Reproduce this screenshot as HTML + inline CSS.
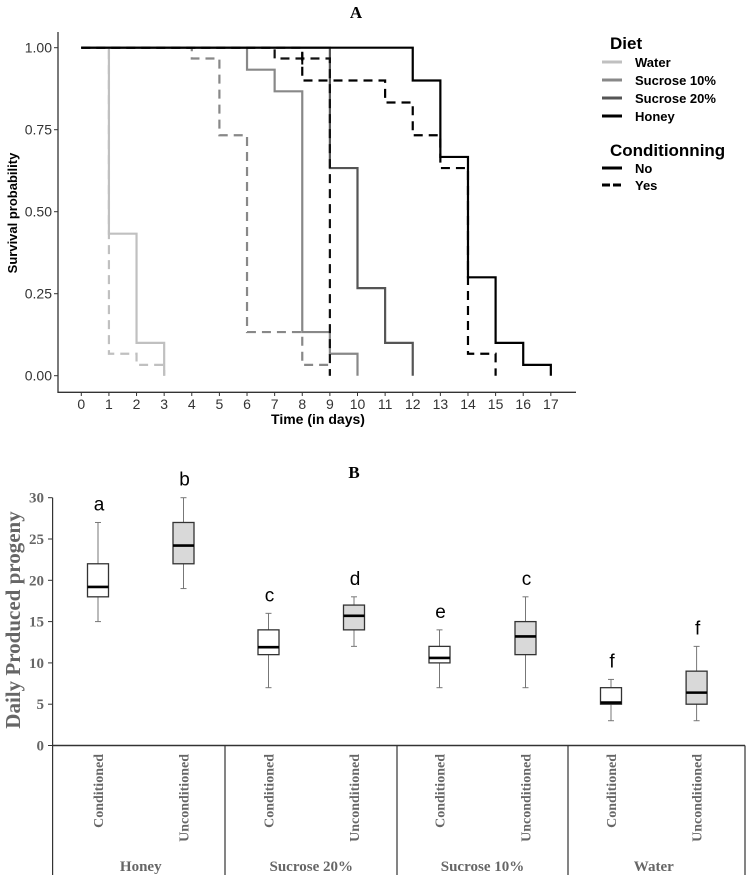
<!DOCTYPE html>
<html><head><meta charset="utf-8"><style>
html,body{margin:0;padding:0;background:#fff;}
svg{display:block;}
</style></head><body>
<svg id="fig" width="749" height="881" viewBox="0 0 749 881" xmlns="http://www.w3.org/2000/svg">
<text x="356" y="18" text-anchor="middle" font-family="Liberation Serif, serif" font-weight="bold" font-size="17">A</text>
<g id="pa"></g>
<g font-family="Liberation Sans, sans-serif" font-weight="bold">
<text x="610" y="49" font-size="17">Diet</text>
<line x1="602" y1="62" x2="622" y2="62" stroke="#c0c0c0" stroke-width="3"/>
<text x="635" y="67" font-size="13">Water</text>
<line x1="602" y1="80" x2="622" y2="80" stroke="#888" stroke-width="3"/>
<text x="635" y="85" font-size="13">Sucrose 10%</text>
<line x1="602" y1="98" x2="622" y2="98" stroke="#555" stroke-width="3"/>
<text x="635" y="103" font-size="13">Sucrose 20%</text>
<line x1="602" y1="116" x2="622" y2="116" stroke="#000" stroke-width="3"/>
<text x="635" y="121" font-size="13">Honey</text>
<text x="610" y="156" font-size="17">Conditionning</text>
<line x1="602" y1="168" x2="622" y2="168" stroke="#000" stroke-width="3"/>
<text x="635" y="173" font-size="13">No</text>
<line x1="602" y1="185" x2="622" y2="185" stroke="#000" stroke-width="3" stroke-dasharray="8,3"/>
<text x="635" y="190" font-size="13">Yes</text>
</g>
<text x="354" y="478" text-anchor="middle" font-family="Liberation Serif, serif" font-weight="bold" font-size="17">B</text>
<g id="pb"></g>
</svg>
<script>
// ---- Panel A data ----
const survTimesWaterNo = [0,1,2,3];
const survProbWaterNo = [1,0.433,0.1,0];
const survTimesWaterYes = [0,1,2,3];
const survProbWaterYes = [1,0.067,0.033,0];
const survTimesSuc10No = [0,6,7,8,9,10];
const survProbSuc10No = [1,0.933,0.867,0.133,0.067,0];
const survTimesSuc10Yes = [0,4,5,6,8,9];
const survProbSuc10Yes = [1,0.967,0.733,0.133,0.033,0];
const survTimesSuc20No = [0,9,10,11,12];
const survProbSuc20No = [1,0.633,0.267,0.1,0];
const survTimesSuc20Yes = [0,7,9];
const survProbSuc20Yes = [1,0.967,0];
const survTimesHoneyNo = [0,12,13,14,15,16,17];
const survProbHoneyNo = [1,0.9,0.667,0.3,0.1,0.033,0];
const survTimesHoneyYes = [0,8,11,12,13,14,15];
const survProbHoneyYes = [1,0.9,0.833,0.733,0.633,0.067,0];
const xTicksA = [0,1,2,3,4,5,6,7,8,9,10,11,12,13,14,15,16,17];
const yTicksA = [0,0.25,0.5,0.75,1];
const yTickLabelsA = ["0.00","0.25","0.50","0.75","1.00"];

// ---- Panel B data ----
const groupsB = ["Honey","Sucrose 20%","Sucrose 10%","Water"];
const condLabels = ["Conditioned","Unconditioned"];
const boxMin = [15,19,7,12,7,7,3,3];
const boxQ1 = [18,22,11,14,10,11,5,5];
const boxMed = [19.2,24.2,11.9,15.7,10.6,13.2,5.2,6.4];
const boxQ3 = [22,27,14,17,12,15,7,9];
const boxMax = [27,30,16,18,14,18,8,12];
const boxLetters = ["a","b","c","d","e","c","f","f"];
const yTicksB = [0,5,10,15,20,25,30];

const NS="http://www.w3.org/2000/svg";
function mk(parent,tag,attrs,text){const e=document.createElementNS(NS,tag);for(const k in attrs)e.setAttribute(k,attrs[k]);if(text!==undefined)e.textContent=text;parent.appendChild(e);return e;}

// Panel A
const pa=document.getElementById('pa');
const xA=d=>81.3+d*27.62;
const yA=p=>375.7-p*328;
let e;
e=mk(pa,'path',{d:'M58,32 V392.3 H576',fill:'none',stroke:'#333','stroke-width':1.3});


yTicksA.forEach((v,i)=>{
  mk(pa,'line',{x1:54,x2:58,y1:yA(v),y2:yA(v),stroke:'#333'});
  e=mk(pa,'text',{x:52,y:yA(v)+5,'text-anchor':'end','font-family':'Liberation Sans, sans-serif','font-size':14,fill:'#333'},yTickLabelsA[i]);
  
  
});
xTicksA.forEach(v=>{
  mk(pa,'line',{x1:xA(v),x2:xA(v),y1:392.3,y2:396,stroke:'#333'});
  e=mk(pa,'text',{x:xA(v),y:409,'text-anchor':'middle','font-family':'Liberation Sans, sans-serif','font-size':14,fill:'#333'},String(v));
  
  
});
e=mk(pa,'text',{x:318,y:424,'text-anchor':'middle','font-family':'Liberation Sans, sans-serif','font-weight':'bold','font-size':14},'Time (in days)');


e=mk(pa,'text',{x:0,y:0,transform:'translate(17,213) rotate(-90)','text-anchor':'middle','font-family':'Liberation Sans, sans-serif','font-weight':'bold','font-size':13},'Survival probability');


function stepPath(ts,ps){let d='M'+xA(ts[0])+','+yA(ps[0]);for(let i=1;i<ts.length;i++){d+=' H'+xA(ts[i])+' V'+yA(ps[i]);}return d;}
const curves=[
 [survTimesWaterNo,survProbWaterNo,'#c0c0c0',false,'curve-water-no'],
 [survTimesWaterYes,survProbWaterYes,'#c0c0c0',true,'curve-water-yes'],
 [survTimesSuc10No,survProbSuc10No,'#888',false,'curve-sucrose10-no'],
 [survTimesSuc10Yes,survProbSuc10Yes,'#888',true,'curve-sucrose10-yes'],
 [survTimesSuc20No,survProbSuc20No,'#555',false,'curve-sucrose20-no'],
 [survTimesSuc20Yes,survProbSuc20Yes,'#111',true,'curve-sucrose20-yes'],
 [survTimesHoneyYes,survProbHoneyYes,'#000',true,'curve-honey-yes'],
 [survTimesHoneyNo,survProbHoneyNo,'#000',false,'curve-honey-no']
];
curves.forEach(c=>{
  const a={d:stepPath(c[0],c[1]),fill:'none',stroke:c[2],'stroke-width':2.2};
  if(c[3])a['stroke-dasharray']='9,6';
  e=mk(pa,'path',a);
  
  
});
mk(pa,'line',{x1:xA(8),x2:xA(8),y1:yA(0.967)-6,y2:yA(0.967)+6,stroke:'#000','stroke-width':2});

// Panel B
const pb=document.getElementById('pb');
const yB=v=>745.5-v*8.26;
const centers=[98,183.5,268.5,354,439.5,525.5,611,696.6];
const sf='Liberation Serif, serif';
e=mk(pb,'line',{x1:52.6,x2:52.6,y1:yB(30),y2:875,stroke:'#333','stroke-width':1.2});


e=mk(pb,'line',{x1:52.6,x2:745,y1:yB(0),y2:yB(0),stroke:'#333','stroke-width':1.5});


[225,397,568,745].forEach(x=>mk(pb,'line',{x1:x,x2:x,y1:yB(0),y2:875,stroke:'#333','stroke-width':1.2}));
yTicksB.forEach(v=>{
  mk(pb,'line',{x1:48,x2:52.6,y1:yB(v),y2:yB(v),stroke:'#333'});
  e=mk(pb,'text',{x:44,y:yB(v)+5,'text-anchor':'end','font-family':sf,'font-weight':'bold','font-size':15,fill:'#666'},String(v));
  
  
});
e=mk(pb,'text',{x:0,y:0,transform:'translate(20,620) rotate(-90)','text-anchor':'middle','font-family':sf,'font-weight':'bold','font-size':21,fill:'#666'},'Daily Produced progeny');


boxMin.forEach((mn,i)=>{
  const cx=centers[i],w=21,fill=i%2?'#d9d9d9':'#fff';
  mk(pb,'line',{x1:cx,x2:cx,y1:yB(boxMax[i]),y2:yB(boxQ3[i]),stroke:'#777'});
  mk(pb,'line',{x1:cx,x2:cx,y1:yB(boxQ1[i]),y2:yB(mn),stroke:'#777'});
  mk(pb,'line',{x1:cx-3,x2:cx+3,y1:yB(boxMax[i]),y2:yB(boxMax[i]),stroke:'#777'});
  mk(pb,'line',{x1:cx-3,x2:cx+3,y1:yB(mn),y2:yB(mn),stroke:'#777'});
  e=mk(pb,'rect',{x:cx-w/2,y:yB(boxQ3[i]),width:w,height:yB(boxQ1[i])-yB(boxQ3[i]),fill:fill,stroke:'#333','stroke-width':1.3});
  
  
  mk(pb,'line',{x1:cx-w/2,x2:cx+w/2,y1:yB(boxMed[i]),y2:yB(boxMed[i]),stroke:'#000','stroke-width':2.6});
  e=mk(pb,'text',{x:cx+1,y:yB(boxMax[i]+2.3)+7,'text-anchor':'middle','font-family':'Liberation Sans, sans-serif','font-size':19},boxLetters[i]);
  
  
  e=mk(pb,'text',{x:0,y:0,transform:'translate('+(cx+5)+',754) rotate(-90)','text-anchor':'end','font-family':sf,'font-weight':'bold','font-size':14,fill:'#666'},condLabels[i%2]);
  
  
});
groupsB.forEach((g,j)=>{
  e=mk(pb,'text',{x:(centers[2*j]+centers[2*j+1])/2,y:871,'text-anchor':'middle','font-family':sf,'font-weight':'bold','font-size':15,fill:'#666'},g);
  
  
});
</script>
</body></html>
